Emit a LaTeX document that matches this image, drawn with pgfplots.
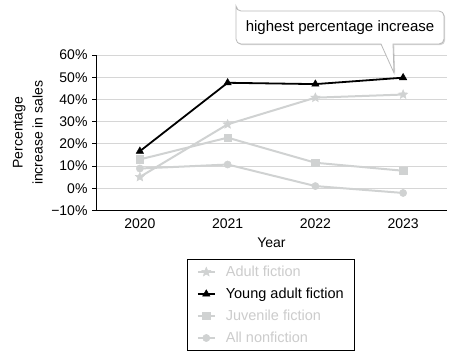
\documentclass[border=0pt]{standalone}
\usepackage{pgfplots}
\pgfplotsset{compat=1.18}
\usepackage{fontspec}
\setmainfont{Liberation Sans}
\usetikzlibrary{shadows}
\definecolor{lg}{HTML}{D0D2D2}
\definecolor{lgtext}{HTML}{CCCCCC}
\definecolor{gridc}{HTML}{D6D6D6}
\pgfdeclareplotmark{fstar}{%
  \pgfpathmoveto{\pgfpointpolar{90}{\pgfplotmarksize}}%
  \pgfpathlineto{\pgfpointpolar{126}{0.45\pgfplotmarksize}}%
  \pgfpathlineto{\pgfpointpolar{162}{\pgfplotmarksize}}%
  \pgfpathlineto{\pgfpointpolar{198}{0.45\pgfplotmarksize}}%
  \pgfpathlineto{\pgfpointpolar{234}{\pgfplotmarksize}}%
  \pgfpathlineto{\pgfpointpolar{270}{0.45\pgfplotmarksize}}%
  \pgfpathlineto{\pgfpointpolar{306}{\pgfplotmarksize}}%
  \pgfpathlineto{\pgfpointpolar{342}{0.45\pgfplotmarksize}}%
  \pgfpathlineto{\pgfpointpolar{18}{\pgfplotmarksize}}%
  \pgfpathlineto{\pgfpointpolar{54}{0.45\pgfplotmarksize}}%
  \pgfpathclose
  \pgfusepathqfillstroke}
\begin{document}
\begin{tikzpicture}[x=1pt,y=1pt]
\path[use as bounding box] (0,0) rectangle (457,-359);
\begin{axis}[
  at={(96pt,-210.5pt)}, anchor=south west,
  width=351pt, height=155.5pt, scale only axis,
  xmin=-0.5, xmax=3.5, ymin=-10, ymax=60,
  xtick={0,1,2,3}, xticklabels={2020,2021,2022,2023},
  ytick={-10,0,10,20,30,40,50,60},
  yticklabels={−10\%,0\%,10\%,20\%,30\%,40\%,50\%,60\%},
  axis x line*=bottom, axis y line*=left,
  axis line style={black, line width=1pt},
  ymajorgrids, grid style={gridc, line width=1pt},
  tick align=outside, major tick length=4pt,
  x tick style={draw=none},
  y tick style={black, line width=1pt},
  every tick label/.append style={font=\fontsize{14}{16}\selectfont},
  yticklabel style={xshift=-1pt},
  xticklabel style={yshift=-1pt},
  xlabel={Year},
  xlabel style={font=\fontsize{14}{16}\selectfont, at={(axis description cs:0.5,-0.206)}, anchor=center},
  ylabel={Percentage\\increase in sales},
  ylabel style={font=\fontsize{14}{20}\selectfont, align=center, at={(axis description cs:-0.194,0.5)}, anchor=center, rotate=0},
  legend style={at={(axis description cs:0.26,-0.315)}, anchor=north west,
    draw=black, line width=1pt, font=\fontsize{14.5}{16}\selectfont,
    inner xsep=9pt, inner ysep=4pt, row sep=6pt,
    /tikz/every odd column/.append style={column sep=8pt}},
  legend cell align=left,
]
\addplot[lg, line width=2pt, mark=fstar, mark size=4.8pt, mark options={line width=0.5pt}]
  coordinates {(0,5.1) (1,28.8) (2,40.8) (3,42.2)};
\addlegendentry{\textcolor{lgtext}{Adult fiction}}
\addplot[black, line width=1.8pt, mark=triangle*, mark size=4.2pt, mark options={line width=0.5pt}]
  coordinates {(0,16.7) (1,47.5) (2,46.9) (3,49.8)};
\addlegendentry{Young adult fiction}
\addplot[lg, line width=2pt, mark=square*, mark size=3.7pt, mark options={line width=0.5pt}]
  coordinates {(0,13.0) (1,22.8) (2,11.5) (3,7.9)};
\addlegendentry{\textcolor{lgtext}{Juvenile fiction}}
\addplot[lg, line width=2pt, mark=*, mark size=3.6pt, mark options={line width=0.5pt}]
  coordinates {(0,8.9) (1,10.7) (2,1.0) (3,-2.1)};
\addlegendentry{\textcolor{lgtext}{All nonfiction}}
\end{axis}
\draw[gray!55, line width=0.8pt, fill=white,
  drop shadow={opacity=0.35, shadow xshift=1.2pt, shadow yshift=-1.2pt}]
  (236,-11) [rounded corners=5pt] -- (444,-11) -- (444,-44) [sharp corners] -- (393,-44)
  -- (394,-73) -- (381,-44) [rounded corners=5pt] -- (236,-44) -- (236,-11) -- cycle;
\node[font=\fontsize{15}{17}\selectfont] at (340,-27.5) {highest percentage increase};
\end{tikzpicture}
\end{document}
